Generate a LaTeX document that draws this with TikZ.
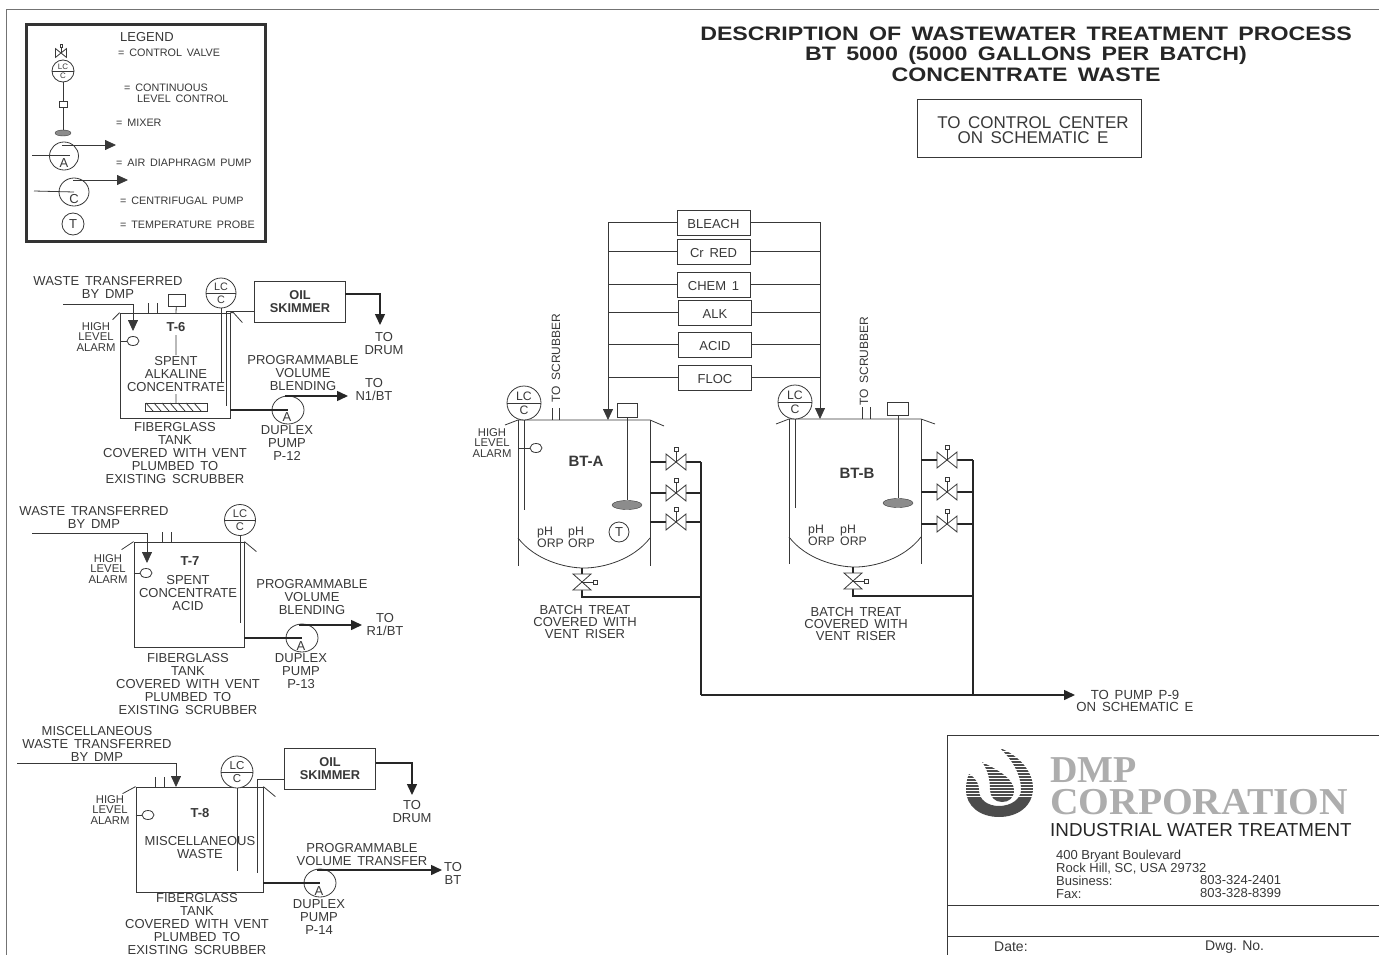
\documentclass[tikz,border=0pt]{standalone}
\usepackage{fontspec}
\setmainfont[WordSpace=1.6]{Liberation Sans}
\newfontfamily\logofont{Liberation Serif}
\newfontfamily\plainfont{Liberation Sans}
\usetikzlibrary{arrows.meta,shapes.geometric}
\definecolor{inkc}{gray}{0.22}
\tikzset{
	lbl/.style={inner sep=0pt,align=center,text=inkc,font=\fontsize{13}{13}\selectfont},
	hilo/.style={lbl,font=\fontsize{11.3}{10.5}\selectfont},
	btx/.style={lbl,font=\fontsize{13}{11.7}\selectfont},
	sml/.style={inner sep=0pt,align=left,anchor=west,text=inkc,font=\fontsize{10.8}{10}\selectfont},
	ph/.style={lbl,align=left,anchor=west,font=\fontsize{12.3}{10.5}\selectfont},
	tag/.style={inner sep=0pt,align=center,text=inkc,font=\bfseries\fontsize{13}{14}\selectfont},
	bigtag/.style={tag,font=\bfseries\fontsize{15}{16}\selectfont},
	title/.style={inner sep=0pt,text=black!85,font=\bfseries\fontsize{19.5}{21}\selectfont},
	line/.style={draw=inkc,line width=0.8pt},
	pipe/.style={draw=black!85,line width=1.5pt},
	feed/.style={line,-{Triangle[length=11pt,width=10pt]}},
	feedb/.style={pipe,-{Triangle[length=11pt,width=10pt]}},
	tankbox/.style={line,inner sep=0pt,minimum width=#1},
	chembox/.style={line,inner sep=0pt,minimum width=73pt,minimum height=25pt,text height=12pt,text depth=0pt,text=inkc,font=\fontsize{13}{13}\selectfont},
	skimbox/.style={line,inner sep=0pt,minimum width=91pt,minimum height=41pt,align=center,text=inkc,font=\bfseries\fontsize{12.8}{12.5}\selectfont},
	pumpc/.style={ellipse,line,inner sep=0pt,minimum width=32pt,minimum height=28pt},
	probe/.style={circle,line,inner sep=0pt,minimum size=20pt,text=inkc,font=\fontsize{13}{13}\selectfont},
	alarm/.style={ellipse,line,fill=white,inner sep=0pt,minimum width=12pt,minimum height=9pt},
	paddle/.style={ellipse,draw=inkc,fill=black!45,inner sep=0pt,minimum width=#1,minimum height=9pt},
	pics/lc/.style={code={
		\pgfmathsetmacro\lcsize{#1*0.72}
		\pgfmathsetmacro\lcoff{#1*0.42}
		\draw[line,fill=white] (0,0) circle[radius=#1];
		\draw[line] (-#1,0) -- (#1,0);
		\node[inner sep=0pt,text=inkc,font=\fontsize{\lcsize}{12}\selectfont] at (0,-\lcoff) {LC};
		\node[inner sep=0pt,text=inkc,font=\fontsize{\lcsize}{12}\selectfont] at (0,\lcoff) {C};
		\coordinate (-s) at (0,#1);
	}},
	pics/valveside/.style={code={
		\draw[line,fill=white] (-10,-8) -- (10,8) -- (10,-8) -- (-10,8) -- cycle;
		\draw[line] (0,0) -- (0,-11);
		\draw[line,fill=white] (-2,-15) rectangle (2,-11);
	}},
	pics/valvedrain/.style={code={
		\draw[line,fill=white] (-9,-8) -- (9,8) -- (-9,8) -- (9,-8) -- cycle;
		\draw[line] (0,0) -- (11,0);
		\draw[line,fill=white] (11,-2) rectangle (15,2);
	}},
}
\begin{document}
\begin{tikzpicture}[x=1pt,y=-1pt]
	\useasboundingbox (0,0) rectangle (1379,955);
	\draw[draw=black!55,line width=0.7pt] (1379,9) -- (6,9) -- (6,955);

	% legend
	\draw[draw=black!80,line width=3pt] (26,25) rectangle (265,241);
	\node[lbl,anchor=west] (legend) at (120,37) {LEGEND};
	\node[sml] (lgvalve) at (118,53) {= CONTROL VALVE};
	\node[sml] (lgcont) at (124,88) {= CONTINUOUS};
	\node[sml] (lglevel) at (137,98.5) {LEVEL CONTROL};
	\node[sml] (lgmix) at (116,123) {= MIXER};
	\node[sml] (lgair) at (116,163) {= AIR DIAPHRAGM PUMP};
	\node[sml] (lgcen) at (120,201) {= CENTRIFUGAL PUMP};
	\node[sml] (lgtemp) at (120,225) {= TEMPERATURE PROBE};
	\pic[scale=.55] at (61,53) {valveside};
	\pic (lglc) at (63,71) {lc=11};
	\node[line,inner sep=0pt,minimum width=8pt,minimum height=6pt] (lgbox) at (63,104) {};
	\node[paddle=16pt,minimum height=6pt] (lgpad) at (63,133) {};
	\draw[line] (lglc-s) -- (lgbox);
	\draw[line] (lgbox) -- (lgpad);
	\node[pumpc,minimum width=29pt] (lga) at (64,156) {};
	\node[lbl] at (64,163) {A};
	\coordinate (lgain) at (32,155);
	\coordinate (lgaout) at (116,145);
	\draw[line] (lgain) -- (70,155);
	\draw[feed] (62,145) -- (lgaout);
	\node[pumpc,minimum width=30pt] (lgc) at (74,192) {};
	\node[lbl] at (74,199) {C};
	\coordinate (lgcin) at (34,191);
	\coordinate (lgcout) at (128,180);
	\draw[line] (lgcin) -- (lgc.center);
	\draw[feed] (73,180) -- (lgcout);
	\node[probe,minimum size=22pt] (lgt) at (73,224) {T};

	% title
	\node[title] (heada) at (1026,34) {\scalebox{1.19}[1]{DESCRIPTION OF WASTEWATER TREATMENT PROCESS}};
	\node[title] (headb) at (1026,55) {\scalebox{1.19}[1]{BT 5000 (5000 GALLONS PER BATCH)}};
	\node[title] (headc) at (1026,75) {\scalebox{1.19}[1]{CONCENTRATE WASTE}};
	\node[line,minimum width=224pt,minimum height=58pt,inner sep=0pt] (ctrl) at (1029,128) {};
	\node[lbl,font=\fontsize{17}{15}\selectfont] (ctrltxt) at (1033,130) {TO CONTROL CENTER\\ON SCHEMATIC E};

	% T-6
	\node[tankbox=110pt,minimum height=105pt] (tsix) at (175,365.5) {};
	\draw[line] (tsix.north west) -- ++(-7,7);
	\draw[line] (tsix.north east) -- ++(3,0) -- ++(9,10);
	\node[lbl] (wsix) at (108,287.5) {WASTE TRANSFERRED\\BY DMP};
	\coordinate (wsixa) at (63,304);
	\coordinate (wsixb) at (133,331);
	\draw[feed] (wsixa) -| (wsixb);
	\draw[line] (148,303) -- (148,313) (157,303) -- (157,313);
	\node[line,inner sep=0pt,minimum width=17pt,minimum height=12pt] (mixsix) at (176.5,300) {};
	\draw[line] (mixsix) -- (176,313) (176,335) -- (176,355) (176,394) -- (176,403);
	\node[tag] (nsix) at (176,327) {T-6};
	\node[alarm] (alsix) at (133,341) {};
	\draw[line] (120,341) -- (alsix);
	\node[hilo] (hisix) at (96,337) {HIGH\\LEVEL\\ALARM};
	\node[lbl] (spsix) at (176,374.5) {SPENT\\ALKALINE\\CONCENTRATE};
	\draw[line] (145,403) rectangle (207,411);
	\foreach \i in {146,154,...,200} {\draw[line] (\i,403) -- (\i+7,411);}
	\pic (lcsix) at (221,293) {lc=15};
	\coordinate (lcsixe) at (221,383);
	\draw[line] (lcsix-s) -- (lcsixe);
	\node[skimbox] (sksix) at (300,301.5) {OIL\\SKIMMER};
	\coordinate (sksixa) at (226,311);
	\coordinate (sksixb) at (226,406);
	\draw[line] (sksix.west |- sksixa) -- (sksixa) -- (sksixb);
	\coordinate (drsix) at (380,325);
	\draw[feedb] (345,294) -| (drsix);
	\node[lbl] (tdsix) at (384,343.5) {TO\\DRUM};
	\node[lbl] (prsix) at (303,373) {PROGRAMMABLE\\VOLUME\\BLENDING};
	\node[pumpc] (pusix) at (288,410) {};
	\node[lbl] at (287,417) {A};
	\draw[pipe] (tsix.east |- pusix) -- (pusix.center);
	\coordinate (nbt) at (348,396);
	\draw[feedb] (285,396) -- (nbt);
	\node[lbl] (tnsix) at (374,390) {TO\\N1/BT};
	\node[lbl] (dusix) at (287,443) {DUPLEX\\PUMP\\P-12};
	\node[lbl] (fisix) at (175,453) {FIBERGLASS\\TANK\\COVERED WITH VENT\\PLUMBED TO\\EXISTING SCRUBBER};

	% T-7
	\node[tankbox=110pt,minimum height=105pt] (tsev) at (189,594.5) {};
	\draw[line] (tsev.north west) -- ++(-12,8);
	\draw[line] (tsev.north east) -- ++(12,10);
	\node[lbl] (wsev) at (94,517) {WASTE TRANSFERRED\\BY DMP};
	\coordinate (wseva) at (32,533);
	\coordinate (wsevb) at (147,563);
	\draw[feed] (wseva) -| (wsevb);
	\draw[line] (162,532) -- (162,542) (171,532) -- (171,542);
	\node[tag] (nsev) at (190,561) {T-7};
	\node[alarm] (alsev) at (146,573) {};
	\draw[line] (tsev.west |- alsev) -- (alsev);
	\node[hilo] (hisev) at (108,569) {HIGH\\LEVEL\\ALARM};
	\node[lbl] (spsev) at (188,593.5) {SPENT\\CONCENTRATE\\ACID};
	\pic (lcsev) at (240,520) {lc=15.5};
	\coordinate (lcseve) at (240,623);
	\draw[line] (lcsev-s) -- (lcseve);
	\node[lbl] (prsev) at (312,597) {PROGRAMMABLE\\VOLUME\\BLENDING};
	\node[pumpc] (pusev) at (302,638) {};
	\node[lbl] at (301,646) {A};
	\draw[pipe] (tsev.east |- pusev) -- (pusev.center);
	\coordinate (rbt) at (362,625);
	\draw[feedb] (299,625) -- (rbt);
	\node[lbl] (tnsev) at (385,624.5) {TO\\R1/BT};
	\node[lbl] (dusev) at (301,671) {DUPLEX\\PUMP\\P-13};
	\node[lbl] (fisev) at (188,684) {FIBERGLASS\\TANK\\COVERED WITH VENT\\PLUMBED TO\\EXISTING SCRUBBER};

	% T-8
	\node[tankbox=127pt,minimum height=105pt] (teig) at (199.5,839.5) {};
	\draw[line] (teig.north west) -- ++(-13,7);
	\draw[line] (teig.north east) -- ++(12,10);
	\node[lbl] (weig) at (97,743.5) {MISCELLANEOUS\\WASTE TRANSFERRED\\BY DMP};
	\coordinate (weiga) at (17,763);
	\coordinate (weigb) at (176,787);
	\draw[feed] (weiga) -| (weigb);
	\draw[line] (155,777) -- (155,787) (164,777) -- (164,787);
	\node[tag] (neig) at (200,813) {T-8};
	\node[alarm] (aleig) at (148,815) {};
	\draw[line] (teig.west |- aleig) -- (aleig);
	\node[hilo] (hieig) at (110,810) {HIGH\\LEVEL\\ALARM};
	\pic (lceig) at (237,772) {lc=16};
	\coordinate (lceige) at (237,871);
	\draw[line] (lceig-s) -- (lceige);
	\node[skimbox] (skeig) at (330,768.5) {OIL\\SKIMMER};
	\coordinate (skeiga) at (257,779);
	\coordinate (skeigb) at (257,873);
	\draw[line] (skeig.west |- skeiga) -- (skeiga) -- (skeigb);
	\node[lbl] (mieig) at (200,848) {MISCELLANEOUS\\WASTE};
	\coordinate (dreig) at (412,795);
	\draw[feedb] (376,763) -| (dreig);
	\node[lbl] (tdeig) at (412,811.5) {TO\\DRUM};
	\node[lbl] (preig) at (362,854.5) {PROGRAMMABLE\\VOLUME TRANSFER};
	\node[pumpc] (pueig) at (320,883) {};
	\node[lbl] at (319,891) {A};
	\draw[pipe] (teig.east |- pueig) -- (pueig.center);
	\coordinate (tobt) at (442,870);
	\draw[feedb] (317,870) -- (tobt);
	\node[lbl] (tneig) at (453,873.5) {TO\\BT};
	\node[lbl] (dueig) at (319,917) {DUPLEX\\PUMP\\P-14};
	\node[lbl] (fieig) at (197,924) {FIBERGLASS\\TANK\\COVERED WITH VENT\\PLUMBED TO\\EXISTING SCRUBBER};

	% chemicals
	\node[chembox] (bleach) at (713.5,222.5) {BLEACH};
	\node[chembox] (crred) at (713.5,251.5) {Cr RED};
	\node[chembox] (chem) at (713.5,284.5) {CHEM 1};
	\node[chembox] (alk) at (715,312.5) {ALK};
	\node[chembox] (acid) at (715,344.5) {ACID};
	\node[chembox] (floc) at (715,377.5) {FLOC};
	\coordinate (inA) at (608,420);
	\coordinate (inB) at (820,419);
	\draw[feed] (bleach.west) -| (inA);
	\draw[feed] (bleach.east) -| (inB);
	\foreach \i in {crred,chem,alk,acid,floc} {
		\draw[line] (\i.west) -- (\i.west -| inA);
		\draw[line] (\i.east) -- (\i.east -| inB);
	}

	% BT-A
	\draw[line] (505,425) -- (518,420) -- (650,420) -- (664,426);
	\draw[line] (518,420) -- (518,566) (650,420) -- (650,566);
	\draw[line] (518,538) .. controls (535,560) and (565,568) .. (584,568) .. controls (603,568) and (633,560) .. (650,538);
	\pic (lca) at (524,403) {lc=17};
	\coordinate (lcae) at (524,510);
	\draw[line] (lca-s) -- (lcae);
	\draw[line] (552,408) -- (552,420) (559,408) -- (559,420);
	\node[lbl,rotate=90,font=\fontsize{12}{13}\selectfont] (scra) at (556,358) {TO SCRUBBER};
	\node[line,inner sep=0pt,minimum width=20pt,minimum height=14pt] (mixa) at (627,410) {};
	\node[paddle=30pt] (pada) at (627,505) {};
	\draw[line] (mixa) -- (pada);
	\node[bigtag] (nbta) at (586,461) {BT-A};
	\node[alarm] (ala) at (536,448) {};
	\draw[line] (518,448) -- (ala);
	\node[hilo] (hia) at (492,443) {HIGH\\LEVEL\\ALARM};
	\node[ph] (pha) at (537,537) {pH\\ORP};
	\node[ph] (phb) at (568,537) {pH\\ORP};
	\node[probe] (tprobe) at (619,532) {T};
	\coordinate (busA) at (701,462);
	\coordinate (main) at (1075,695);
	\foreach \y in {462,493,522} {
		\draw[pipe] (650,\y) -- (701,\y);
		\pic at (676,\y) {valveside};
	}
	\draw[pipe] (582,568) -- (582,597) -- (701,597);
	\pic at (582,582) {valvedrain};
	\draw[pipe] (busA) -- (busA |- main);
	\draw[feedb] (busA |- main) -- (main);
	\node[btx] (btxa) at (585,622) {BATCH TREAT\\COVERED WITH\\VENT RISER};

	% BT-B
	\draw[line] (776,424) -- (789,419) -- (921,419) -- (935,424);
	\draw[line] (789,419) -- (789,564) (921,419) -- (921,564);
	\draw[line] (789,537) .. controls (806,559) and (836,567) .. (855,567) .. controls (874,567) and (904,559) .. (921,537);
	\pic (lcb) at (795,402) {lc=17};
	\coordinate (lcbe) at (795,508);
	\draw[line] (lcb-s) -- (lcbe);
	\draw[line] (862,407) -- (862,419) (870,407) -- (870,419);
	\node[lbl,rotate=90,font=\fontsize{12}{13}\selectfont] (scrb) at (864,361) {TO SCRUBBER};
	\node[line,inner sep=0pt,minimum width=21pt,minimum height=13pt] (mixb) at (898,408.5) {};
	\node[paddle=30pt] (padb) at (898,503) {};
	\draw[line] (mixb) -- (padb);
	\node[bigtag] (nbtb) at (857,473) {BT-B};
	\node[ph] (phc) at (808,535.5) {pH\\ORP};
	\node[ph] (phd) at (840,535.5) {pH\\ORP};
	\coordinate (busB) at (973,460);
	\foreach \y in {460,492,524} {
		\draw[pipe] (921,\y) -- (973,\y);
		\pic at (947,\y) {valveside};
	}
	\draw[pipe] (853,567) -- (853,596) -- (973,596);
	\pic at (853,581) {valvedrain};
	\draw[pipe] (busB) -- (busB |- main);
	\node[btx] (btxb) at (856,624) {BATCH TREAT\\COVERED WITH\\VENT RISER};
	\node[lbl,font=\fontsize{13.2}{12}\selectfont] (topump) at (1135,701) {TO PUMP P-9\\ON SCHEMATIC E};

	% title block
	\draw[line] (1379,735) -- (947,735) -- (947,955);
	\draw[line] (947,905) -- (1379,905) (947,936) -- (1379,936);
	\begin{scope}
		\fill[black!70] (1000,748) .. controls (1020,756) and (1033,772) .. (1033,788)
			.. controls (1033,806) and (1018,817) .. (999,817)
			.. controls (980,817) and (966,806) .. (966,790)
			.. controls (966,784) and (967,778) .. (969,774)
			.. controls (976,778) and (979,784) .. (979,790)
			.. controls (979,800) and (988,806) .. (999,806)
			.. controls (1011,806) and (1021,799) .. (1021,790)
			.. controls (1021,772) and (1010,758) .. (1000,748) -- cycle;
		\fill[black!70] (982,762) .. controls (994,768) and (1014,778) .. (1014,790)
			.. controls (1014,798) and (1009,802) .. (1002,802)
			.. controls (995,802) and (990,797) .. (990,790)
			.. controls (990,780) and (988,770) .. (982,762) -- cycle;
		\foreach \y in {748,751,...,796} {\draw[white,line width=0.8pt] (960,\y) -- (1040,\y);}
	\end{scope}
	\node[inner sep=0pt,anchor=south west,align=left,text depth=0pt,text=black!32,font=\logofont\bfseries\fontsize{38}{32}\selectfont] (corp) at (1050,815) {DMP\\\scalebox{1.04}[1]{CORPORATION}};
	\node[inner sep=0pt,anchor=base west,text=black!85,font=\plainfont\fontsize{18.8}{19}\selectfont] (indw) at (1050,836.5) {INDUSTRIAL WATER TREATMENT};
	\node[inner sep=0pt,anchor=north west,align=left,text=inkc,font=\plainfont\fontsize{13}{13}\selectfont] (addr) at (1056,849.5) {400 Bryant Boulevard\\Rock Hill, SC, USA 29732\\Business:\\Fax:};
	\node[inner sep=0pt,anchor=north west,align=left,text=inkc,font=\plainfont\fontsize{13}{13}\selectfont] (phone) at (1200,875.5) {803-324-2401\\803-328-8399};
	\node[inner sep=0pt,anchor=west,text=inkc,font=\plainfont\fontsize{14}{14}\selectfont] (date) at (994,947) {Date:};
	\node[inner sep=0pt,anchor=west,text=inkc,font=\plainfont\fontsize{14}{14}\selectfont] (dwg) at (1205,947) {Dwg. No.};
\end{tikzpicture}
\end{document}
